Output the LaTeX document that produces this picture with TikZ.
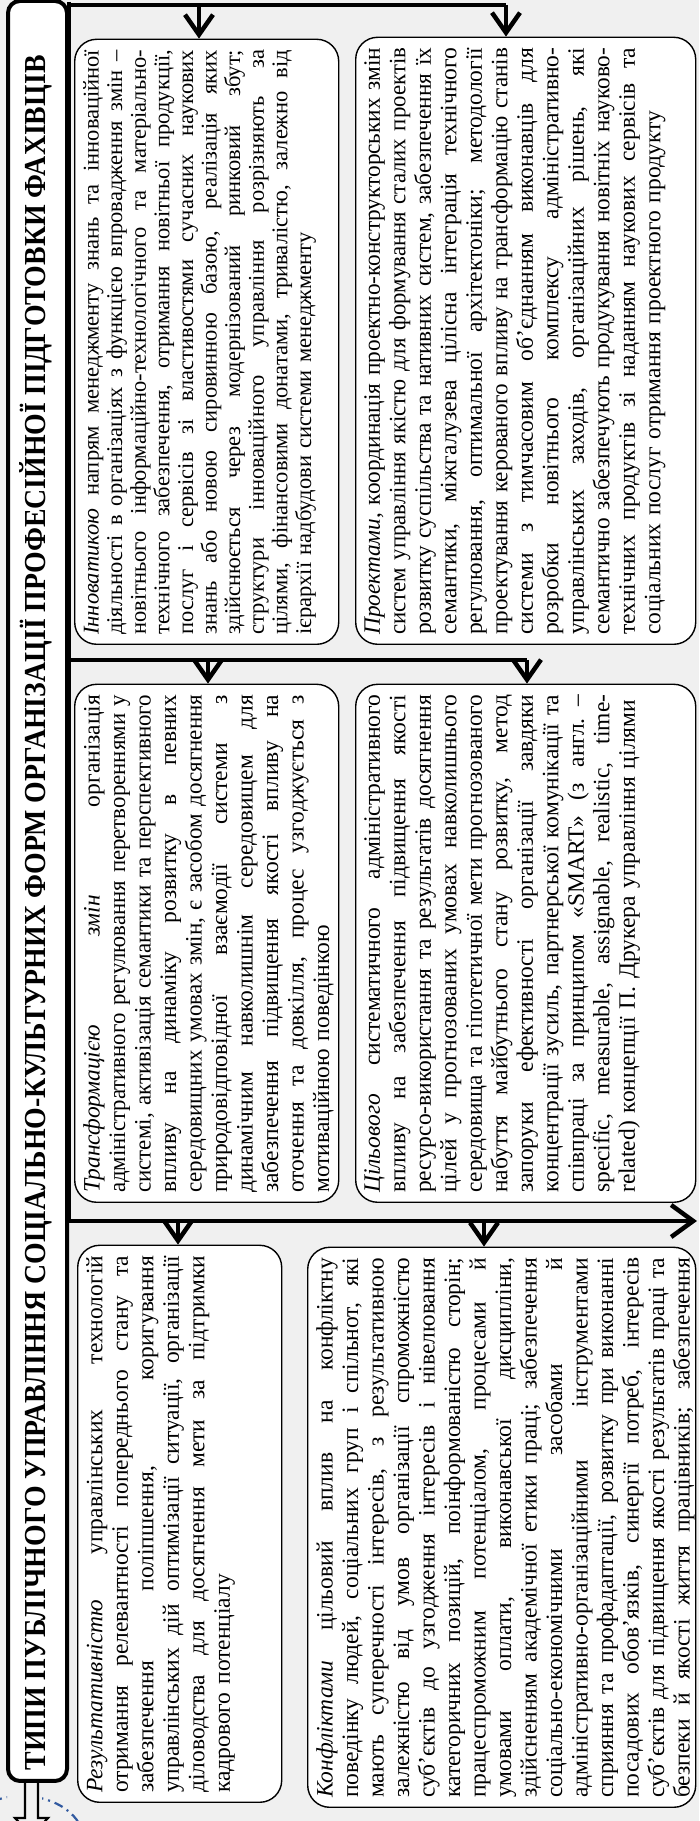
\documentclass[tikz,border=0pt]{standalone}
\usepackage{fontspec}
\setmainfont{Liberation Serif}
\usepackage{graphicx}
\usetikzlibrary{arrows.meta,calc}
\definecolor{bgc}{RGB}{240,240,240}
\definecolor{arcblue}{RGB}{50,90,160}
\newdimen\LW
\newcommand\JL[1]{\setbox0=\hbox{#1}\ifdim\wd0>\LW\relax\hbox{\resizebox{\LW}{\height}{\box0}}\else\hbox to\LW{\spaceskip=0.25em plus 1fil minus 0.02em\relax #1}\fi}
\newcommand\LastL[1]{\setbox0=\hbox{#1}\ifdim\wd0>\LW\relax\hbox{\resizebox{\LW}{\height}{\box0}}\else\box0\fi}
\begin{document}
\begin{tikzpicture}[x=1pt,y=1pt,
  boxs/.style={draw, line width=1.4pt, rounded corners=22pt, fill=white, inner sep=0pt, anchor=south west},
  txt/.style={rotate=90, anchor=north west, inner sep=0pt, text width=#1, execute at begin node={\LW=#1\relax}, font=\fontsize{23.5}{25.5}\selectfont},
  conn/.style={line width=4.5pt, line join=miter},
  arr/.style={conn, -{Straight Barb[length=20pt,width=28pt]}}]
\useasboundingbox (0,0) rectangle (699,1821);
\fill[bgc] (0,0) rectangle (699,1821);
% stray arc below
\begin{scope}
\clip (0,0) rectangle (7,40);
\draw[arcblue, line width=2.2pt, dash pattern=on 9pt off 5pt on 2pt off 5pt] (22,-20) ellipse [x radius=62, y radius=45];
\end{scope}
\begin{scope}
\clip (42,0) rectangle (140,40);
\draw[arcblue, line width=2.2pt, dash pattern=on 9pt off 5pt on 2pt off 5pt] (22,-20) ellipse [x radius=62, y radius=45];
\end{scope}
% pedestal arrow
\draw[line width=2.2pt] (25,40) -- (25,3) -- (15,3) -- (31.5,-15) -- (48,3) -- (38,3) -- (38,40);
% title box
\node[draw, line width=4pt, rounded corners=12pt, fill=white, minimum width=59pt, minimum height=1780pt, anchor=south west, inner sep=0pt] (tbox) at (6,38) {};
\node[rotate=90, inner sep=0pt] (title) at (36,908) {\resizebox{1715pt}{\height}{\fontsize{30.5}{30}\selectfont\bfseries ТИПИ ПУБЛІЧНОГО УПРАВЛІННЯ СОЦІАЛЬНО-КУЛЬТУРНИХ ФОРМ ОРГАНІЗАЦІЇ ПРОФЕСІЙНОЇ ПІДГОТОВКИ ФАХІВЦІВ}};
% boxes
\node[boxs, minimum width=264pt, minimum height=605pt] (b1) at (74,1176) {};
\node[boxs, minimum width=340pt, minimum height=607pt] (b2) at (355,1176) {};
\node[boxs, minimum width=264pt, minimum height=518pt] (b3) at (74,618) {};
\node[boxs, minimum width=340pt, minimum height=518pt] (b4) at (355,618) {};
\node[boxs, minimum width=204pt, minimum height=557pt] (b5) at (77,18) {};
\node[boxs, minimum width=388pt, minimum height=560pt] (b6) at (307,13) {};
% connectors
\coordinate (tTop) at (69,1819);
\coordinate (tBot) at (69,600);
\coordinate (hEnd) at (697,600);
\coordinate (l1) at (69,1816);
\coordinate (l1e) at (506,1816);
\coordinate (a1) at (199,1816);
\coordinate (l2) at (69,1161);
\coordinate (l2e) at (527,1161);
\coordinate (a3) at (208,1161);
\coordinate (a5) at (178,600);
\coordinate (a6) at (484,600);
\draw[conn] (l1) -- (l1e);
\draw[conn] (l2) -- (l2e);
\draw[conn, -{Straight Barb[length=22pt,width=32pt]}] (tTop) -- (tBot) -- (hEnd);
\draw[arr] (a1) -- (a1 |- b1.north);
\draw[arr] (l1e) -- (l1e |- b2.north);
\draw[arr] (a3) -- (a3 |- b3.north);
\draw[arr] (l2e) -- (l2e |- b4.north);
\draw[arr] (a5) -- (a5 |- b5.north);
\draw[arr] (a6) -- (a6 |- b6.north);
% texts
\node[txt=585pt, font=\fontsize{22.5}{23.6}\selectfont] (t1) at ($(b1.south west)+(9,10)$) {%
\JL{\textit{Інноватикою} напрям менеджменту знань та інноваційної}
\JL{діяльності в організаціях з функцією впровадження змін –}
\JL{новітнього інформаційно-технологічного та матеріально-}
\JL{технічного забезпечення, отримання новітньої продукції,}
\JL{послуг і сервісів зі властивостями сучасних наукових}
\JL{знань або новою сировинною базою, реалізація яких}
\JL{здійснюється через модернізований ринковий збут;}
\JL{структури інноваційного управління розрізняють за}
\JL{цілями, фінансовими донатами, тривалістю, залежно від}
\LastL{ієрархії надбудови системи менеджменту}};
\node[txt=587pt] (t2) at ($(b2.south west)+(9,10)$) {%
\JL{\textit{Проектами}, координація проектно-конструкторських змін}
\JL{систем управління якістю для формування сталих проектів}
\JL{розвитку суспільства та нативних систем, забезпечення їх}
\JL{семантики, міжгалузева цілісна інтеграція технічного}
\JL{регулювання, оптимальної архітектоніки; методології}
\JL{проектування керованого впливу на трансформацію станів}
\JL{системи з тимчасовим об’єднанням виконавців для}
\JL{розробки новітнього комплексу адміністративно-}
\JL{управлінських заходів, організаційних рішень, які}
\JL{семантично забезпечують продукування новітніх науково-}
\JL{технічних продуктів зі наданням наукових сервісів та}
\LastL{соціальних послуг отримання проектного продукту}};
\node[txt=498pt] (t3) at ($(b3.south west)+(9,10)$) {%
\JL{\textit{Трансформацією змін} організація}
\JL{адміністративного регулювання перетвореннями у}
\JL{системі, активізація семантики та перспективного}
\JL{впливу на динаміку розвитку в певних}
\JL{середовищних умовах змін, є засобом досягнення}
\JL{природовідповідної взаємодії системи з}
\JL{динамічним навколишнім середовищем для}
\JL{забезпечення підвищення якості впливу на}
\JL{оточення та довкілля, процес узгоджується з}
\LastL{мотиваційною поведінкою}};
\node[txt=498pt] (t4) at ($(b4.south west)+(9,10)$) {%
\JL{\textit{Цільового} систематичного адміністративного}
\JL{впливу на забезпечення підвищення якості}
\JL{ресурсо-використання та результатів досягнення}
\JL{цілей у прогнозованих умовах навколишнього}
\JL{середовища та гіпотетичної мети прогнозованого}
\JL{набуття майбутнього стану розвитку, метод}
\JL{запоруки ефективності організації завдяки}
\JL{концентрації зусиль, партнерської комунікації та}
\JL{співпраці за принципом «SMART» (з англ. –}
\JL{specific, measurable, assignable, realistic, time-}
\LastL{related) концепції П. Друкера управління цілями}};
\node[txt=537pt] (t5) at ($(b5.south west)+(9,10)$) {%
\JL{\textit{Результативністю} управлінських технологій}
\JL{отримання релевантності попереднього стану та}
\JL{забезпечення поліпшення, коригування}
\JL{управлінських дій оптимізації ситуації, організації}
\JL{діловодства для досягнення мети за підтримки}
\LastL{кадрового потенціалу}};
\node[txt=540pt] (t6) at ($(b6.south west)+(9,10)$) {%
\JL{\textit{Конфліктами} цільовий вплив на конфліктну}
\JL{поведінку людей, соціальних груп і спільнот, які}
\JL{мають суперечності інтересів, з результативною}
\JL{залежністю від умов організації спроможністю}
\JL{суб’єктів до узгодження інтересів і нівелювання}
\JL{категоричних позицій, поінформованістю сторін;}
\JL{працеспроможним потенціалом, процесами й}
\JL{умовами оплати, виконавської дисципліни,}
\JL{здійсненням академічної етики праці; забезпечення}
\JL{соціально-економічними засобами й}
\JL{адміністративно-організаційними інструментами}
\JL{сприяння та профадаптації, розвитку при виконанні}
\JL{посадових обов’язків, синергії потреб, інтересів}
\JL{суб’єктів для підвищення якості результатів праці та}
\JL{безпеки й якості життя працівників; забезпечення}};
\end{tikzpicture}
\end{document}
